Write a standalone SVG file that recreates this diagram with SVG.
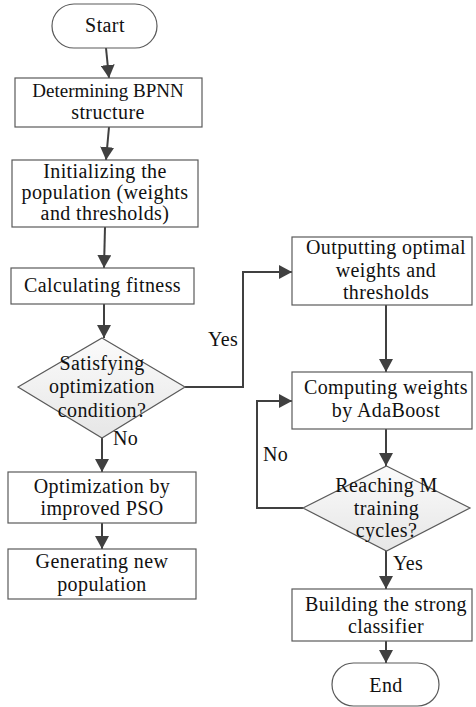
<svg xmlns="http://www.w3.org/2000/svg" width="476" height="707" viewBox="0 0 476 707" font-family="Liberation Serif, Times New Roman, serif" font-size="20">
<defs>
<marker id="ah" markerUnits="userSpaceOnUse" markerWidth="14" markerHeight="14" viewBox="0 0 14 14" refX="13" refY="7" orient="auto">
<path d="M0,0 L13,7 L0,14 Z" fill="#404040"/>
</marker>
<linearGradient id="dg" x1="0" y1="0" x2="0" y2="1">
<stop offset="0" stop-color="#fbfbfb"/>
<stop offset="1" stop-color="#e6e6e6"/>
</linearGradient>
<style>
.box{fill:#fff;stroke:#5a5a5a;stroke-width:1.2}
.dia{fill:url(#dg);stroke:#5a5a5a;stroke-width:1.2}
text{fill:#111;letter-spacing:0.4px}
.t{text-anchor:middle}
.c{fill:none;stroke:#404040;stroke-width:2}
</style>
</defs>
<rect width="476" height="707" fill="#fff"/>
<g id="connectors">
<path class="c" d="M106,48 L109,78" marker-end="url(#ah)"/>
<path class="c" d="M109,127 L106,160" marker-end="url(#ah)"/>
<path class="c" d="M105,227 L104,268" marker-end="url(#ah)"/>
<path class="c" d="M104,304 L104,338" marker-end="url(#ah)"/>
<path class="c" d="M102,438 L102,472" marker-end="url(#ah)"/>
<path class="c" d="M102,523 L102,549" marker-end="url(#ah)"/>
<path class="c" d="M185,387 L243,387 L243,272 L292,272" marker-end="url(#ah)"/>
<path class="c" d="M386,305 L386,372" marker-end="url(#ah)"/>
<path class="c" d="M386,429 L386,466" marker-end="url(#ah)"/>
<path class="c" d="M303,508 L257,508 L257,401 L292,401" marker-end="url(#ah)"/>
<path class="c" d="M386,551 L386,589" marker-end="url(#ah)"/>
<path class="c" d="M386,641 L386,663" marker-end="url(#ah)"/>
<text x="208" y="346">Yes</text>
<text x="113" y="445">No</text>
<text x="263" y="461">No</text>
<text x="393" y="570">Yes</text>
</g>
<g id="start">
<rect class="box" x="52" y="4" width="105" height="44" rx="22" ry="22"/>
<text class="t" x="105" y="32">Start</text>
</g>
<g id="n1">
<rect class="box" x="15" y="78" width="187" height="49"/>
<text class="t" x="108" y="97" font-size="19" style="letter-spacing:0">Determining BPNN</text>
<text class="t" x="108" y="119">structure</text>
</g>
<g id="n2">
<rect class="box" x="12" y="160" width="186" height="67"/>
<text class="t" x="105" y="178">Initializing the</text>
<text class="t" x="105" y="199">population (weights</text>
<text class="t" x="105" y="220">and thresholds)</text>
</g>
<g id="n3">
<rect class="box" x="11" y="268" width="183" height="36"/>
<text class="t" x="102.5" y="292">Calculating fitness</text>
</g>
<g id="d1">
<polygon class="dia" points="102,338 185,387 102,438 18,387"/>
<text class="t" x="102" y="370">Satisfying</text>
<text class="t" x="102" y="393">optimization</text>
<text class="t" x="102" y="417">condition?</text>
</g>
<g id="n4">
<rect class="box" x="8" y="472" width="188" height="51"/>
<text class="t" x="102" y="493">Optimization by</text>
<text class="t" x="102" y="515">improved PSO</text>
</g>
<g id="n5">
<rect class="box" x="8" y="549" width="188" height="50"/>
<text class="t" x="102" y="568">Generating new</text>
<text class="t" x="102" y="591">population</text>
</g>
<g id="n6">
<rect class="box" x="292" y="237" width="180" height="68"/>
<text class="t" x="386" y="254">Outputting optimal</text>
<text class="t" x="386" y="277">weights and</text>
<text class="t" x="386" y="299">thresholds</text>
</g>
<g id="n7">
<rect class="box" x="292" y="372" width="180" height="57"/>
<text class="t" x="386" y="394">Computing weights</text>
<text class="t" x="386" y="417">by AdaBoost</text>
</g>
<g id="d2">
<polygon class="dia" points="386.5,466 470,508 386.5,551 303,508"/>
<text class="t" x="386.5" y="492">Reaching M</text>
<text class="t" x="386.5" y="515">training</text>
<text class="t" x="386.5" y="537">cycles?</text>
</g>
<g id="n8">
<rect class="box" x="292" y="589" width="180" height="52"/>
<text class="t" x="386" y="611">Building the strong</text>
<text class="t" x="386" y="633">classifier</text>
</g>
<g id="end">
<rect class="box" x="332" y="663" width="107" height="43" rx="21.5" ry="21.5"/>
<text class="t" x="386" y="692">End</text>
</g>
</svg>
